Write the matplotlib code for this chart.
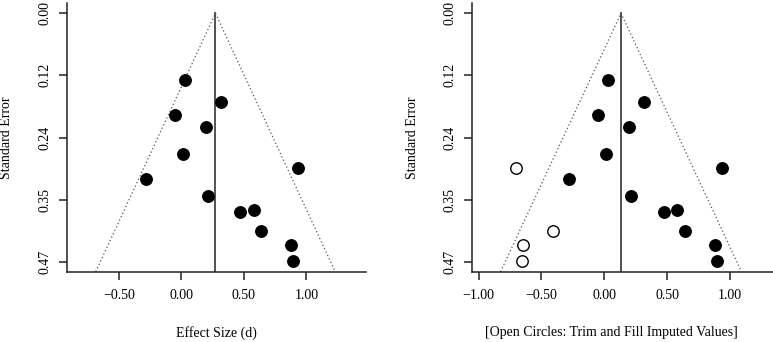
import numpy as np
import matplotlib.pyplot as plt

plt.rcParams['font.family'] = ['Liberation Serif', 'DejaVu Serif']
plt.rcParams['font.size'] = 10

# observed studies (effect size d, standard error)
obs_d = [0.027, 0.317, -0.051, 0.197, 0.011, 0.936, -0.283,
         0.216, 0.472, 0.579, 0.640, 0.880, 0.896]
obs_se = [0.127, 0.167, 0.193, 0.215, 0.266, 0.293, 0.314,
          0.345, 0.375, 0.372, 0.411, 0.439, 0.469]

# trim and fill imputed studies
fill_d = [-0.703, -0.406, -0.645, -0.658]
fill_se = [0.293, 0.411, 0.439, 0.469]

# pooled estimates
est_left = 0.272
est_right = 0.133

se_ticks = [0.0, 0.1175, 0.235, 0.3525, 0.47]
se_labels = ['0.00', '0.12', '0.24', '0.35', '0.47']
ylim = (0.4888, -0.0188)

W, H = 773, 342
fig = plt.figure(figsize=(W / 100, H / 100), dpi=100)


def funnel(ax, est, xticks, xlim):
    ax.set_ylim(*ylim)
    ax.set_xlim(*xlim)
    bot = ylim[0]
    ax.plot([est - 1.96 * bot, est, est + 1.96 * bot], [bot, 0, bot],
            color='#555555', lw=0.9, ls=(0, (1, 2)), zorder=1)
    ax.plot([est, est], [0, bot], color='#444444', lw=1.3, zorder=1)
    ax.scatter(obs_d, obs_se, s=68, color='black', zorder=3)
    ax.set_yticks(se_ticks)
    ax.set_yticklabels(se_labels, rotation=90, va='center')
    ax.set_xticks(xticks)
    ax.set_xticklabels(['\u2212%.2f' % -t if t < 0 else '%.2f' % t for t in xticks])
    for s in ['top', 'right']:
        ax.spines[s].set_visible(False)
    for s in ['left', 'bottom']:
        ax.spines[s].set_linewidth(1.1)
        ax.spines[s].set_color('#222222')
    ax.tick_params(axis='both', length=6, width=1.1, color='#222222')
    ax.tick_params(axis='x', pad=6.5)
    ax.tick_params(axis='y', pad=5)
    ax.set_ylabel('Standard Error', va='center')


bottom = (H - 271.7) / H
height = (271.7 - 3.3) / H

ax1 = fig.add_axes([66.7 / W, bottom, (365.7 - 66.7) / W, height])
funnel(ax1, est_left, [-0.5, 0.0, 0.5, 1.0], (-0.918, 1.474))
ax1.set_xlabel('Effect Size (d)', va='center')
ax1.xaxis.set_label_coords(0.5, -0.228)
ax1.yaxis.set_label_coords(-0.2, 0.5)

ax2 = fig.add_axes([471.7 / W, bottom, (W - 471.7) / W, height])
funnel(ax2, est_right, [-1.0, -0.5, 0.0, 0.5, 1.0], (-1.055, 1.342))
ax2.scatter(fill_d, fill_se, s=68, facecolor='white', edgecolor='black',
            linewidth=1.0, zorder=3)
ax2.set_xlabel('[Open Circles: Trim and Fill Imputed Values]', va='center')
ax2.xaxis.set_label_coords(0.462, -0.228)
ax2.yaxis.set_label_coords(-0.196, 0.5)

fig.savefig('out.png', dpi=100)
